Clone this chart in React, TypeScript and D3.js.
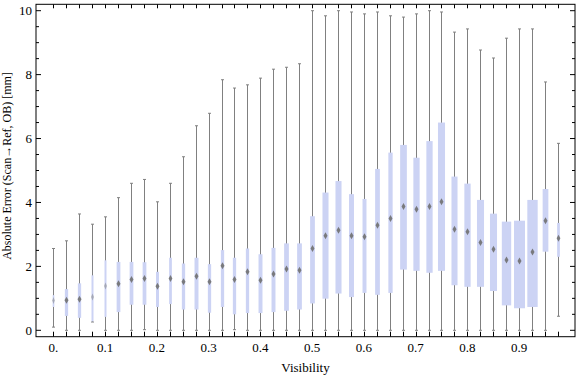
import React from "react";
import * as d3 from "d3";

const visibility = [0, 0.025, 0.05, 0.075, 0.1, 0.125, 0.15, 0.175, 0.2, 0.225, 0.25, 0.275, 0.3, 0.325, 0.35, 0.375, 0.4, 0.425, 0.45, 0.475, 0.5, 0.525, 0.55, 0.575, 0.6, 0.625, 0.65, 0.675, 0.7, 0.725, 0.75, 0.775, 0.8, 0.825, 0.85, 0.875, 0.9, 0.925, 0.95, 0.975];
const whiskerLow = [0.10, 0.00, 0.00, 0.26, 0.00, 0.00, 0.00, 0.02, 0.00, 0.00, 0.00, 0.00, 0.00, 0.00, 0.02, 0.00, 0.00, 0.00, 0.00, 0.00, 0.00, 0.00, 0.00, 0.00, 0.00, 0.00, 0.00, 0.00, 0.00, 0.00, 0.00, 0.00, 0.00, 0.00, 0.00, 0.00, 0.00, 0.00, 0.00, 0.44];
const quartile1 = [0.73, 0.45, 0.39, 0.28, 0.42, 0.57, 0.80, 0.80, 0.73, 0.82, 0.65, 0.65, 0.55, 0.73, 0.50, 0.54, 0.54, 0.57, 0.61, 0.65, 0.84, 0.99, 1.15, 1.04, 1.17, 1.11, 1.17, 1.90, 1.86, 1.80, 1.86, 1.41, 1.36, 1.36, 1.23, 0.78, 0.69, 0.73, 2.46, 2.30];
const median = [0.93, 0.94, 0.97, 1.04, 1.39, 1.46, 1.59, 1.62, 1.38, 1.62, 1.52, 1.69, 1.52, 2.02, 1.59, 1.83, 1.57, 1.76, 1.92, 1.88, 2.56, 2.96, 3.13, 2.96, 2.93, 3.29, 3.50, 3.87, 3.79, 3.87, 4.02, 3.16, 3.08, 2.75, 2.54, 2.20, 2.17, 2.45, 3.43, 2.88];
const quartile3 = [1.10, 1.29, 1.47, 1.72, 2.19, 2.14, 2.14, 2.13, 1.83, 2.27, 2.09, 2.27, 2.07, 2.51, 2.27, 2.56, 2.38, 2.58, 2.72, 2.72, 3.57, 4.31, 4.67, 4.26, 4.11, 5.05, 5.56, 5.80, 5.40, 5.92, 6.50, 4.81, 4.59, 4.08, 3.65, 3.40, 3.43, 4.08, 4.42, 3.36];
const whiskerHigh = [2.56, 2.80, 3.64, 3.32, 3.55, 4.15, 4.60, 4.72, 4.02, 4.60, 5.43, 6.40, 6.79, 7.84, 7.58, 7.68, 7.89, 8.17, 8.23, 8.34, 10.0, 9.84, 10.0, 9.96, 9.90, 9.96, 9.84, 9.80, 9.90, 10.0, 9.96, 9.33, 9.43, 8.77, 8.52, 9.14, 9.43, 9.43, 7.77, 5.85];
// relative sample weight of each bin (drives box width)
const boxWeight = [0.15, 0.30, 0.30, 0.18, 0.18, 0.34, 0.34, 0.34, 0.27, 0.25, 0.30, 0.36, 0.30, 0.30, 0.30, 0.30, 0.36, 0.36, 0.43, 0.43, 0.43, 0.55, 0.55, 0.45, 0.36, 0.43, 0.39, 0.61, 0.57, 0.57, 0.64, 0.55, 0.57, 0.64, 0.64, 0.85, 1.0, 0.94, 0.52, 0.25];

const xTickValues = [0, 0.1, 0.2, 0.3, 0.4, 0.5, 0.6, 0.7, 0.8, 0.9];
const xTickLabels = ["0.", "0.1", "0.2", "0.3", "0.4", "0.5", "0.6", "0.7", "0.8", "0.9"];
const yTickValues = [0, 2, 4, 6, 8, 10];
const yTickLabels = ["0", "2", "4", "6", "8", "10"];

const W = 576;
const H = 377;
const frame = { left: 36, right: 575, top: 4.3, bottom: 336.7 };
const FONT = "Liberation Serif, Times New Roman, Times, serif";

export default function App() {
  const x = d3.scaleLinear().domain([0, 0.975]).range([53.3, 557.9]);
  const y = d3.scaleLinear().domain([-0.2, 10.2]).range([frame.bottom, frame.top]);
  const wScale = d3.scaleLinear().domain([0, 1]).range([0, 11]);

  const yMinor = d3.range(0, 10.01, 0.5);

  return (
    <svg width={W} height={H} style={{ position: "absolute", left: 0, top: 0, background: "#fff" }}>
      <rect x={0} y={0} width={W} height={H} fill="#fff" />
      {visibility.map((v, i) => {
        const cx = Math.round(x(v)) + 0.5;
        const bw = wScale(boxWeight[i]);
        const md = y(median[i]);
        const mw = Math.min(4, bw + 1);
        return (
          <g key={i}>
            <line x1={cx} x2={cx} y1={y(whiskerLow[i])} y2={y(whiskerHigh[i])} stroke="#808080" strokeWidth={1} />
            <line x1={cx - 1.5} x2={cx + 1.5} y1={y(whiskerHigh[i])} y2={y(whiskerHigh[i])} stroke="#808080" strokeWidth={1} />
            <line x1={cx - 1.5} x2={cx + 1.5} y1={y(whiskerLow[i])} y2={y(whiskerLow[i])} stroke="#808080" strokeWidth={1} />
            <rect x={cx - bw / 2} width={bw} y={y(quartile3[i])} height={y(quartile1[i]) - y(quartile3[i])} fill="#ccd3f4" />
            <path d={`M${cx},${md - 3.5}L${cx + mw / 2},${md}L${cx},${md + 3.5}L${cx - mw / 2},${md}Z`} fill="#707070" opacity={bw < 2.5 ? 0.45 : 0.9} />
          </g>
        );
      })}
      <rect x={frame.left} y={frame.top} width={frame.right - frame.left} height={frame.bottom - frame.top} fill="none" stroke="#000" strokeWidth={1} />
      {visibility.map((v, i) => {
        const px = Math.round(x(v)) + 0.5;
        return (
          <g key={"xt" + i}>
            <line x1={px} x2={px} y1={frame.bottom} y2={frame.bottom - 5} stroke="#000" />
            <line x1={px} x2={px} y1={frame.top} y2={frame.top + 4} stroke="#000" />
          </g>
        );
      })}
      {yMinor.map((v, i) => {
        const py = y(v);
        const major = Math.abs(v % 2) < 1e-6;
        const len = major ? 5 : 3;
        return (
          <g key={"yt" + i}>
            <line x1={frame.left} x2={frame.left + len} y1={py} y2={py} stroke="#000" />
            <line x1={frame.right} x2={frame.right - len} y1={py} y2={py} stroke="#000" />
          </g>
        );
      })}
      {xTickValues.map((v, i) => (
        <text key={"xl" + i} x={x(v)} y={352} textAnchor="middle" fontFamily={FONT} fontSize={13} fill="#000">
          {xTickLabels[i]}
        </text>
      ))}
      {yTickValues.map((v, i) => (
        <text key={"yl" + i} x={32} y={y(v)} dy="0.35em" textAnchor="end" fontFamily={FONT} fontSize={13} fill="#000">
          {yTickLabels[i]}
        </text>
      ))}
      <text x={(frame.left + frame.right) / 2} y={372} textAnchor="middle" fontFamily={FONT} fontSize={13} fill="#000">
        Visibility
      </text>
      <text transform={`translate(11,166) rotate(-90)`} textAnchor="middle" fontFamily={FONT} fontSize={12} fill="#000">
        Absolute Error (Scan→Ref, OB) [mm]
      </text>
    </svg>
  );
}
